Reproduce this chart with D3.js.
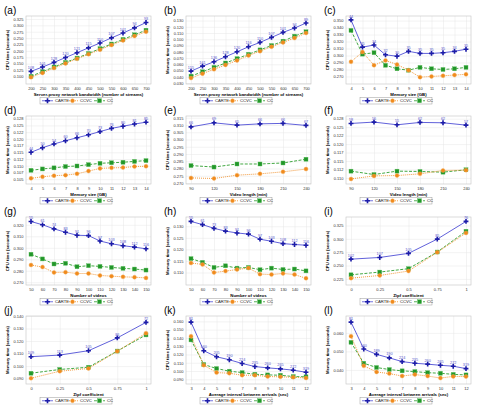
<!DOCTYPE html>
<html lang="en">
<head>
<meta charset="UTF-8">
<title>CARTE vs CCVC vs CC</title>
<script src="https://cdn.jsdelivr.net/npm/d3@7"></script>
<style>
    body { margin: 0; background: #fff; }
    text { font-family: "Liberation Sans", Arial, sans-serif; }
</style>
</head>
<body>
<script>
// x categories
var bandwidth = [200, 250, 300, 350, 400, 450, 500, 550, 600, 650, 700];
var memSize = [4, 5, 6, 7, 8, 9, 10, 11, 12, 13, 14];
var videoLen = [90, 120, 150, 180, 210, 240];
var numVideos = [50, 60, 70, 80, 90, 100, 110, 120, 130, 140, 150];
var zipf = [0, 0.25, 0.5, 0.75, 1];
var interval = [3, 4, 5, 6, 7, 8, 9, 10, 11, 12];

// (a) CPU time vs bandwidth
var a_carte = [0.120, 0.137, 0.155, 0.174, 0.193, 0.212, 0.231, 0.251, 0.270, 0.290, 0.311];
var a_ccvc = [0.097, 0.114, 0.133, 0.151, 0.169, 0.187, 0.205, 0.223, 0.241, 0.258, 0.275];
var a_cc = [0.101, 0.119, 0.137, 0.155, 0.172, 0.190, 0.209, 0.227, 0.245, 0.263, 0.281];
var a_lab = ["108", "101", "128", "120", "121", "115", "110", "107", "101", "94", "93"];
var a_yticks = [0.100, 0.125, 0.150, 0.175, 0.200, 0.225, 0.250, 0.275, 0.300, 0.325];

// (b) memory time vs bandwidth
var b_carte = [0.049, 0.057, 0.064, 0.072, 0.080, 0.088, 0.095, 0.103, 0.111, 0.118, 0.126];
var b_ccvc = [0.038, 0.045, 0.052, 0.059, 0.066, 0.074, 0.081, 0.088, 0.095, 0.102, 0.110];
var b_cc = [0.041, 0.048, 0.055, 0.062, 0.069, 0.076, 0.083, 0.090, 0.097, 0.105, 0.112];
var b_lab = ["155", "161", "136", "128", "120", "116", "110", "107", "101", "94", "89"];
var b_yticks = [0.030, 0.040, 0.050, 0.060, 0.070, 0.080, 0.090, 0.100, 0.110, 0.120, 0.130];

// (c) CPU time vs memory size
var c_carte = [0.351, 0.312, 0.315, 0.301, 0.299, 0.306, 0.303, 0.303, 0.304, 0.306, 0.309];
var c_ccvc = [0.291, 0.305, 0.286, 0.293, 0.287, 0.279, 0.269, 0.270, 0.271, 0.272, 0.273];
var c_cc = [0.336, 0.302, 0.304, 0.286, 0.281, 0.279, 0.283, 0.281, 0.280, 0.281, 0.283];
var c_lab = ["44", "35", "34", "32", "30", "35", "35", "35", "35", "34", "35"];
var c_yticks = [0.270, 0.280, 0.290, 0.300, 0.310, 0.320, 0.330, 0.340, 0.350];

// (d) memory time vs memory size
var d_carte = [0.1150, 0.1167, 0.1181, 0.1193, 0.1204, 0.1215, 0.1227, 0.1239, 0.1247, 0.1255, 0.1262];
var d_ccvc = [0.1053, 0.1059, 0.1063, 0.1065, 0.1070, 0.1080, 0.1090, 0.1092, 0.1093, 0.1097, 0.1098];
var d_cc = [0.1083, 0.1088, 0.1092, 0.1097, 0.1099, 0.1104, 0.1109, 0.1111, 0.1113, 0.1116, 0.1119];
var d_lab = ["44", "50", "54", "60", "66", "70", "73", "76", "80", "81", "85"];
var d_yticks = [0.105, 0.1075, 0.110, 0.1125, 0.115, 0.1175, 0.120, 0.1225, 0.125, 0.1275];
var d_ylabels = ["0.105", "0.107", "0.110", "0.112", "0.115", "0.117", "0.120", "0.122", "0.125", "0.128"];

// (e) CPU time vs video length
var e_carte = [0.3087, 0.3115, 0.3099, 0.3108, 0.3111, 0.3097];
var e_ccvc = [0.2735, 0.2731, 0.2754, 0.2763, 0.2777, 0.2796];
var e_cc = [0.2820, 0.2810, 0.2831, 0.2831, 0.2838, 0.2864];
var e_lab = ["66", "69", "65", "66", "66", "67"];
var e_yticks = [0.270, 0.275, 0.280, 0.285, 0.290, 0.295, 0.300, 0.305, 0.310, 0.315];

// (f) memory time vs video length
var f_carte = [0.1261, 0.1265, 0.1257, 0.1264, 0.1263, 0.1256];
var f_ccvc = [0.1097, 0.1106, 0.1107, 0.1112, 0.1122, 0.1123];
var f_cc = [0.1120, 0.1110, 0.1120, 0.1119, 0.1117, 0.1124];
var f_lab = ["58", "56", "55", "62", "62", "57"];
var f_yticks = [0.110, 0.1125, 0.115, 0.1175, 0.120, 0.1225, 0.125, 0.1275];
var f_ylabels = ["0.110", "0.112", "0.115", "0.117", "0.120", "0.122", "0.125", "0.128"];

// (g) CPU time vs number of videos
var g_carte = [0.3229, 0.3200, 0.3165, 0.3135, 0.3109, 0.3106, 0.3059, 0.3035, 0.3018, 0.3006, 0.2991];
var g_ccvc = [0.2850, 0.2832, 0.2785, 0.2788, 0.2776, 0.2776, 0.2759, 0.2753, 0.2747, 0.2744, 0.2738];
var g_cc = [0.2944, 0.2903, 0.2859, 0.2865, 0.2835, 0.2844, 0.2838, 0.2829, 0.2821, 0.2815, 0.2806];
var g_lab = ["55", "61", "74", "83", "91", "96", "97", "103", "108", "112", "116"];
var g_yticks = [0.270, 0.280, 0.290, 0.300, 0.310, 0.320];

// (h) memory time vs number of videos
var h_carte = [0.1321, 0.1307, 0.1291, 0.1279, 0.1271, 0.1266, 0.1244, 0.1235, 0.1225, 0.1221, 0.1218];
var h_ccvc = [0.1141, 0.1135, 0.1100, 0.1106, 0.1113, 0.1119, 0.1093, 0.1091, 0.1096, 0.1091, 0.1075];
var h_cc = [0.1160, 0.1144, 0.1122, 0.1129, 0.1119, 0.1122, 0.1112, 0.1119, 0.1113, 0.1115, 0.1107];
var h_lab = ["55", "61", "73", "83", "91", "96", "97", "103", "108", "112", "116"];
var h_yticks = [0.110, 0.115, 0.120, 0.125, 0.130];

// (i) CPU time vs Zipf
var i_carte = [0.2619, 0.2651, 0.2728, 0.2995, 0.3326];
var i_ccvc = [0.2263, 0.2314, 0.2396, 0.2747, 0.3110];
var i_cc = [0.2326, 0.2377, 0.2441, 0.2753, 0.3142];
var i_lab = ["102", "107", "105", "85", "76"];
var i_yticks = [0.225, 0.250, 0.275, 0.300, 0.325];

// (j) memory time vs Zipf
var j_carte = [0.1075, 0.1088, 0.1123, 0.1225, 0.1349];
var j_ccvc = [0.0903, 0.0959, 0.0981, 0.1118, 0.1263];
var j_cc = [0.0943, 0.0973, 0.0991, 0.1120, 0.1249];
var j_lab = ["109", "113", "105", "86", "72"];
var j_yticks = [0.090, 0.100, 0.110, 0.120, 0.130, 0.140];

// (k) CPU time vs arrival interval
var k_carte = [0.1591, 0.1245, 0.1172, 0.1136, 0.1091, 0.1054, 0.1038, 0.1026, 0.1010, 0.0985];
var k_ccvc = [0.1420, 0.1071, 0.0981, 0.0973, 0.0949, 0.0949, 0.0933, 0.0930, 0.0924, 0.0916];
var k_cc = [0.1376, 0.1079, 0.1030, 0.0998, 0.0981, 0.0961, 0.0953, 0.0949, 0.0933, 0.0930];
var k_lab = ["81", "160", "205", "190", "224", "235", "260", "265", "272", "319"];
var k_yticks = [0.090, 0.100, 0.110, 0.120, 0.130, 0.140, 0.150, 0.160];

// (l) memory time vs arrival interval
var l_carte = [0.0658, 0.0513, 0.0484, 0.0465, 0.0445, 0.0436, 0.0431, 0.0425, 0.0420, 0.0407];
var l_ccvc = [0.0582, 0.0422, 0.0389, 0.0380, 0.0367, 0.0375, 0.0367, 0.0356, 0.0365, 0.0364];
var l_cc = [0.0549, 0.0436, 0.0413, 0.0402, 0.0395, 0.0391, 0.0385, 0.0382, 0.0376, 0.0373];
var l_lab = ["81", "160", "189", "190", "224", "235", "260", "265", "272", "319"];
var l_yticks = [0.040, 0.050, 0.060];

var seriesNames = ["CARTE", "CCVC", "CC"];

var cpuTitle = "CPU time (seconds)", memTitle = "Memory time (seconds)";
var bwTitle = "Server-proxy network bandwidth (number of streams)";

var panels = [
    { id: "a", x: bandwidth, s: [a_carte, a_ccvc, a_cc], lab: a_lab, yt: a_yticks, dom: [0.0706, 0.3365], yTitle: cpuTitle, xTitle: bwTitle },
    { id: "b", x: bandwidth, s: [b_carte, b_ccvc, b_cc], lab: b_lab, yt: b_yticks, dom: [0.0284, 0.1373], yTitle: memTitle, xTitle: bwTitle },
    { id: "c", x: memSize, s: [c_carte, c_ccvc, c_cc], lab: c_lab, yt: c_yticks, dom: [0.2592, 0.3566], yTitle: cpuTitle, xTitle: "Memory size (GB)" },
    { id: "d", x: memSize, s: [d_carte, d_ccvc, d_cc], lab: d_lab, yt: d_yticks, yl: d_ylabels, dom: [0.1032, 0.1285], yTitle: memTitle, xTitle: "Memory size (GB)" },
    { id: "e", x: videoLen, s: [e_carte, e_ccvc, e_cc], lab: e_lab, yt: e_yticks, dom: [0.2693, 0.3162], yTitle: cpuTitle, xTitle: "Video length (min)" },
    { id: "f", x: videoLen, s: [f_carte, f_ccvc, f_cc], lab: f_lab, yt: f_yticks, yl: f_ylabels, dom: [0.1082, 0.1283], yTitle: memTitle, xTitle: "Video length (min)" },
    { id: "g", x: numVideos, s: [g_carte, g_ccvc, g_cc], lab: g_lab, yt: g_yticks, dom: [0.2676, 0.3268], yTitle: cpuTitle, xTitle: "Number of videos" },
    { id: "h", x: numVideos, s: [h_carte, h_ccvc, h_cc], lab: h_lab, yt: h_yticks, dom: [0.1046, 0.1340], yTitle: memTitle, xTitle: "Number of videos" },
    { id: "i", x: zipf, s: [i_carte, i_ccvc, i_cc], lab: i_lab, yt: i_yticks, dom: [0.2135, 0.3409], yTitle: cpuTitle, xTitle: "Zipf coefficient" },
    { id: "j", x: zipf, s: [j_carte, j_ccvc, j_cc], lab: j_lab, yt: j_yticks, dom: [0.0857, 0.1400], yTitle: memTitle, xTitle: "Zipf coefficient" },
    { id: "k", x: interval, s: [k_carte, k_ccvc, k_cc], lab: k_lab, yt: k_yticks, dom: [0.0843, 0.1665], yTitle: cpuTitle, xTitle: "Average interval between arrivals (sec)" },
    { id: "l", x: interval, s: [l_carte, l_ccvc, l_cc], lab: l_lab, yt: l_yticks, dom: [0.0324, 0.0691], yTitle: memTitle, xTitle: "Average interval between arrivals (sec)" }
];

var colors = ["#4f4fd6", "#f0902a", "#2f9e2f"];
var markColors = ["#1c1ca8", "#f08a1c", "#22962a"];
var dashes = [null, "1,1", "3,1.5"];

var colX = [0, 160, 320], rowY = [0, 100, 201, 300];
var fl = 26, fr = 151, ft = 16, fb = 84;

var svg = d3.select("body").append("svg")
    .attr("width", 479)
    .attr("height", 411);

function marker(sel, k) {
    if (k == 0) {
        sel.append("path").attr("d", d3.symbol().type(d3.symbolCross).size(13))
            .attr("fill", markColors[0]);
    } else if (k == 1) {
        sel.append("circle").attr("r", 2).attr("fill", markColors[1]).attr("stroke", "#f5b060").attr("stroke-width", 0.4);
    } else {
        sel.append("rect").attr("x", -2).attr("y", -2).attr("width", 4).attr("height", 4)
            .attr("fill", markColors[2]).attr("stroke", "#60c060").attr("stroke-width", 0.4);
    }
}

panels.forEach(function(p, idx) {
    var col = idx % 3, row = Math.floor(idx / 3);
    var g = svg.append("g").attr("transform", "translate(" + colX[col] + "," + rowY[row] + ")");

    g.append("text").attr("x", 4).attr("y", 13.5).attr("font-size", 10).text("(" + p.id + ")");

    var x0 = p.x[0], x1 = p.x[p.x.length - 1];
    var xScale = d3.scaleLinear().domain([x0, x1]).range([fl + 5, fr - 5]);
    var yScale = d3.scaleLinear().domain(p.dom).range([fb, ft]);

    g.append("rect").attr("x", fl).attr("y", ft).attr("width", fr - fl).attr("height", fb - ft)
        .attr("fill", "#fff");

    var yAxis = d3.axisLeft(yScale).tickValues(p.yt).tickSize(-(fr - fl)).tickPadding(2.5)
        .tickFormat(function(d, i) { return p.yl ? p.yl[i] : d3.format(".3f")(d); });
    var ya = g.append("g").attr("transform", "translate(" + fl + ",0)").call(yAxis);

    var xAxis = d3.axisBottom(xScale).tickValues(p.x).tickSize(-(fb - ft)).tickPadding(3)
        .tickFormat(d3.format("~g"));
    var xa = g.append("g").attr("transform", "translate(0," + fb + ")").call(xAxis);

    [ya, xa].forEach(function(a) {
        a.select(".domain").remove();
        a.selectAll(".tick line").attr("stroke", "#e6e6e6").attr("stroke-width", 0.5);
        a.selectAll(".tick text").attr("font-size", 4).attr("fill", "#333")
            .attr("font-family", "Liberation Sans, Arial, sans-serif");
    });

    g.append("rect").attr("x", fl).attr("y", ft).attr("width", fr - fl).attr("height", fb - ft)
        .attr("fill", "none").attr("stroke", "#c4c4c4").attr("stroke-width", 0.6);

    g.append("text").attr("transform", "translate(9," + ((ft + fb) / 2) + ") rotate(-90)")
        .attr("text-anchor", "middle").attr("font-size", 4.3).attr("font-weight", "bold")
        .text(p.yTitle);
    g.append("text").attr("x", (fl + fr) / 2).attr("y", 96).attr("text-anchor", "middle")
        .attr("font-size", 4.3).attr("font-weight", "bold").text(p.xTitle);

    // series, drawn back to front so CARTE sits on top
    [2, 1, 0].forEach(function(k) {
        var vals = p.s[k];
        var line = d3.line()
            .x(function(d, i) { return xScale(p.x[i]); })
            .y(function(d) { return yScale(d); });
        g.append("path").datum(vals).attr("d", line)
            .attr("fill", "none").attr("stroke", colors[k]).attr("stroke-width", 0.9)
            .attr("stroke-dasharray", dashes[k]);
        vals.forEach(function(v, i) {
            var m = g.append("g").attr("transform", "translate(" + xScale(p.x[i]) + "," + yScale(v) + ")");
            marker(m, k);
        });
    });

    p.lab.forEach(function(t, i) {
        g.append("text").attr("x", xScale(p.x[i])).attr("y", yScale(p.s[0][i]) - 2.4)
            .attr("text-anchor", "middle").attr("font-size", 3.8).attr("fill", "#5656cc")
            .text(t);
    });

    // legend
    var lg = g.append("g").attr("transform", "translate(40,97.5)");
    lg.append("rect").attr("width", 72).attr("height", 6.5).attr("fill", "#fff")
        .attr("stroke", "#9a9a9a").attr("stroke-width", 0.5);
    var lx = [2, 27, 54];
    seriesNames.forEach(function(name, k) {
        lg.append("line").attr("x1", lx[k]).attr("x2", lx[k] + 11).attr("y1", 3.25).attr("y2", 3.25)
            .attr("stroke", colors[k]).attr("stroke-width", 0.8).attr("stroke-dasharray", dashes[k]);
        var m = lg.append("g").attr("transform", "translate(" + (lx[k] + 5.5) + ",3.25)");
        marker(m, k);
        lg.append("text").attr("x", lx[k] + 13).attr("y", 4.7).attr("font-size", 4.2).attr("fill", "#222")
            .text(name);
    });
});
</script>
</body>
</html>
